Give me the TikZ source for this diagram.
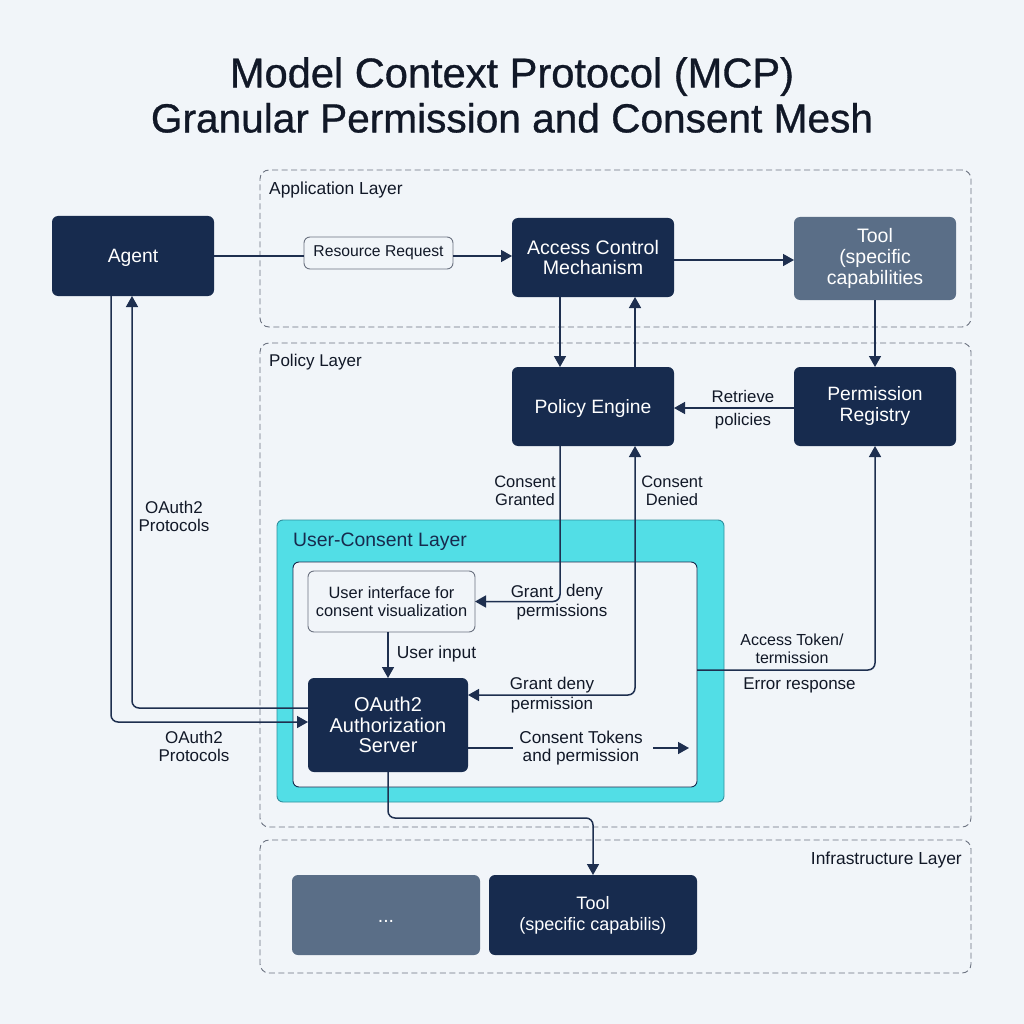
\documentclass[tikz,border=0pt]{standalone}
\usepackage{fontspec}
\setmainfont{Liberation Sans}
\newfontfamily\titlefont[FakeBold=0.8]{Liberation Sans}
\usetikzlibrary{arrows.meta}
\definecolor{bgc}{HTML}{F1F5F9}
\definecolor{navy}{HTML}{172B4E}
\definecolor{slate}{HTML}{5A6E87}
\definecolor{teal}{HTML}{52DEE6}
\definecolor{tealb}{HTML}{2F8F9E}
\definecolor{ink}{HTML}{111827}
\definecolor{wire}{HTML}{1E2F4F}
\definecolor{dash}{HTML}{6B7280}
\tikzset{
  wh/.style 2 args={minimum width=#1pt,minimum height=#2pt,inner sep=0pt,outer sep=0pt},
  fs/.style 2 args={font=\fontsize{#1}{#2}\selectfont},
  layerbox/.style={draw=dash,line width=0.9pt,dash pattern=on 6pt off 3.5pt,rounded corners=9pt},
  navybox/.style={fill=navy,rounded corners=6pt,text=white,align=center,fs={19.3}{21}},
  slatebox/.style={fill=slate,rounded corners=6pt,text=white,align=center,fs={19.5}{21}},
  lightbox/.style={draw=dash,fill=bgc,line width=0.9pt,rounded corners=6pt,text=ink,align=center},
  lab/.style={text=ink,align=center,inner sep=0pt,fs={17}{18}},
  lowered/.style={execute at begin node={\rule{0pt}{#1pt}}},
  wireline/.style={draw=wire,line width=1.5pt,rounded corners=7pt},
  tip/.style={-{Triangle[length=11pt,width=12pt]}},
  tipboth/.style={{Triangle[length=11pt,width=12pt]}-{Triangle[length=11pt,width=12pt]}},
}
\begin{document}
\begin{tikzpicture}[x=1pt,y=-1pt]
\fill[bgc] (0,0) rectangle (1024,1024);
\useasboundingbox (0,0) rectangle (1024,1024);
\node[text=ink,align=center,inner sep=0pt,font=\titlefont] (title) at (512,95) {\fontsize{41.6}{45}\selectfont Model Context Protocol (MCP)\\[6pt]\fontsize{40.6}{45}\selectfont Granular Permission and Consent Mesh};
% layers
\node[layerbox,wh={711}{157}] (applayer) at (615.5,248.5) {};
\node[layerbox,wh={711}{484}] (pollayer) at (615.5,585) {};
\node[layerbox,wh={711}{133}] (inflayer) at (615.5,906.5) {};
\node[lab,anchor=west,fs={17.4}{20}] (applabel) at (269,190.5) {Application Layer};
\node[lab,anchor=west] (pollabel) at (269,362) {Policy Layer};
\node[lab,anchor=east,fs={17.4}{20}] (inflabel) at (962,860) {Infrastructure Layer};
% consent
\node[fill=teal,draw=tealb,line width=0.9pt,rounded corners=6pt,wh={447}{282}] (outer) at (500.5,661) {};
\node[fill=bgc,draw=navy,line width=0.9pt,rounded corners=6pt,wh={404}{225}] (inner) at (495,674.5) {};
\node[lab,anchor=west,text=navy,fs={19.4}{21}] (conslabel) at (293,542) {User-Consent Layer};
% boxes
\node[navybox,wh={162}{80},lowered=17] (agent) at (133,256) {Agent};
\node[navybox,wh={162}{79},fs={19.6}{20.5}] (acm) at (593,257.5) {Access Control\\Mechanism};
\node[slatebox,wh={162}{83},lowered=18] (tooltop) at (875,258.5) {Tool\\(specific\\capabilities};
\node[navybox,wh={162}{79},lowered=17] (engine) at (593,406.5) {Policy Engine};
\node[navybox,wh={162}{79},lowered=21] (registry) at (875,406.5) {Permission\\Registry};
\node[lightbox,wh={167}{61},fs={16.4}{17.5}] (ui) at (391.5,601.5) {User interface for\\consent visualization};
\node[navybox,wh={160}{94},fs={20}{20.5}] (oauth) at (388,725) {OAuth2\\Authorization\\Server};
\node[slatebox,wh={188}{80},lowered=15] (more) at (386,915) {...};
\node[navybox,wh={208}{80},fs={18}{21},lowered=20] (toolbot) at (593,915) {Tool\\(specific capabilis)};
\node[lightbox,wh={149}{32},fs={15.7}{17}] (req) at (378.5,253) {Resource Request};
% text-only connector stops
\coordinate (tokstop) at (513,748);
\coordinate (tokstart) at (653,748);
\coordinate (tokend) at (689,748);
% connectors
\draw[wireline] (agent.east) -- (agent.east -| req.west);
\draw[wireline,tip] (agent.east -| req.east) -- (agent.east -| acm.west);
\draw[wireline,tip] ([yshift=-2.5pt]acm.east) -- ([yshift=-1.5pt]tooltop.west);
\draw[wireline,tip] (tooltop.south) -- (registry.north);
\draw[wireline,tip] ([xshift=-33pt]acm.south) -- ([xshift=-33pt]engine.north);
\draw[wireline,tip] ([xshift=42pt]engine.north) -- ([xshift=42pt]acm.south);
\draw[wireline,tip] ([yshift=-1.5pt]registry.west) -- ([yshift=-1.5pt]engine.east);
\draw[wireline,tip] ([xshift=-33pt]engine.south) |- (ui.east);
\draw[wireline,tipboth] ([xshift=42pt]engine.south) |- ([yshift=30pt]oauth.east);
\draw[wireline,tip] ([yshift=4.5pt]inner.east) -| (registry.south);
\draw[wireline,tip] ([xshift=-3.5pt]ui.south) -- (oauth.north);
\draw[wireline] ([yshift=-23pt]oauth.east) -- (tokstop);
\draw[wireline,tip] (tokstart) -- (tokend);
\draw[wireline,tip] (oauth.south) -- ++(0,46) -| (toolbot.north);
\draw[wireline,tip] ([xshift=-22pt]agent.south) |- ([yshift=3pt]oauth.west);
\draw[wireline,tip] ([yshift=17pt]oauth.west) -| ([xshift=-1pt]agent.south);
% labels
\node[lab] (l1) at (174,516) {OAuth2\\Protocols};
\node[lab] (l2) at (194,746.5) {OAuth2\\Protocols};
\node[lab,fs={16.5}{18}] (l3) at (525,491) {Consent\\Granted};
\node[lab,fs={16.5}{18}] (l4) at (672,491) {Consent\\Denied};
\node[lab,fs={16.8}{18}] (l5) at (743,396) {Retrieve};
\node[lab,fs={16.8}{18}] (l6) at (743,421) {policies};
\node[lab] (l7) at (532,592) {Grant};
\node[lab] (l8) at (584.5,592) {deny};
\node[lab] (l9) at (562,612) {permissions};
\node[lab,fs={17.4}{18}] (l10) at (436.5,654) {User input};
\node[lab,fs={17}{20}] (l11) at (552,695) {Grant deny\\permission};
\node[lab,fs={17.2}{18.5}] (l12) at (581,748) {Consent Tokens\\and permission};
\node[lab,fs={16}{18}] (l13) at (792,649) {Access Token/\\termission};
\node[lab] (l14) at (799.5,685.5) {Error response};
\end{tikzpicture}
\end{document}
